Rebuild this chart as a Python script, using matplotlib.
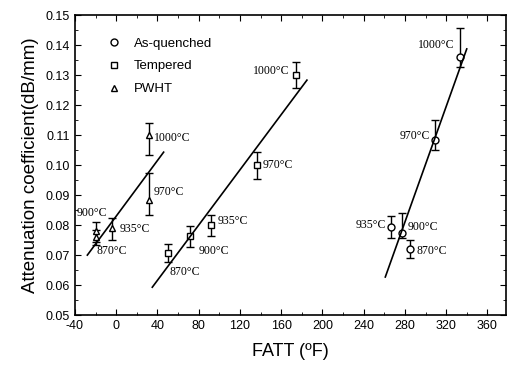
import matplotlib.pyplot as plt
import numpy as np

# data
temps = ['870', '900', '935', '970', '1000']

aq_x = [285, 277, 267, 309, 333]
aq_y = [0.072, 0.0773, 0.0794, 0.1083, 0.136]
aq_lo = [0.003, 0.0015, 0.0037, 0.0033, 0.0033]
aq_hi = [0.003, 0.0067, 0.0037, 0.0067, 0.0097]

tp_x = [50, 72, 92, 137, 174]
tp_y = [0.0707, 0.0763, 0.080, 0.100, 0.130]
tp_err = [0.003, 0.0035, 0.0035, 0.0045, 0.0043]

pw_x = [-20, -20, -4, 32, 32]
pw_y = [0.076, 0.078, 0.079, 0.0883, 0.110]
pw_lo = [0.0025, 0.0035, 0.004, 0.005, 0.0065]
pw_hi = [0.0025, 0.003, 0.0033, 0.009, 0.004]

# fitted lines (end points)
aq_fit_x = [261, 340]
aq_fit_y = [0.0627, 0.1387]
tp_fit_x = [35, 185]
tp_fit_y = [0.0593, 0.1283]
pw_fit_x = [-28, 46]
pw_fit_y = [0.070, 0.1043]

plt.rcParams['font.family'] = 'Liberation Sans'
plt.rcParams['axes.unicode_minus'] = False

fig = plt.figure(figsize=(5.1, 3.66), dpi=100)
ax = fig.add_axes([0.147, 0.139, 0.845, 0.82])

ekw = dict(fmt='none', ecolor='black', elinewidth=1.0, capsize=3, capthick=1.0)
ax.errorbar(aq_x, aq_y, yerr=[aq_lo, aq_hi], **ekw)
ax.errorbar(tp_x, tp_y, yerr=tp_err, **ekw)
ax.errorbar(pw_x, pw_y, yerr=[pw_lo, pw_hi], **ekw)

mkw = dict(linestyle='none', markerfacecolor='white', markeredgecolor='black',
           markersize=5, markeredgewidth=1.0)
ax.plot(aq_x, aq_y, marker='o', label='As-quenched', **mkw)
ax.plot(tp_x, tp_y, marker='s', label='Tempered', **mkw)
ax.plot(pw_x, pw_y, marker='^', label='PWHT', **mkw)

ax.plot(aq_fit_x, aq_fit_y, color='black', lw=1.2)
ax.plot(tp_fit_x, tp_fit_y, color='black', lw=1.2)
ax.plot(pw_fit_x, pw_fit_y, color='black', lw=1.2)

# temperature labels
lab = dict(family='Liberation Serif', fontsize=8.5)
# as-quenched
ax.text(291, 0.0715, '870°C', va='center', ha='left', **lab)
ax.text(283, 0.0795, '900°C', va='center', ha='left', **lab)
ax.text(262, 0.0800, '935°C', va='center', ha='right', **lab)
ax.text(304, 0.1097, '970°C', va='center', ha='right', **lab)
ax.text(328, 0.1400, '1000°C', va='center', ha='right', **lab)
# tempered
ax.text(52, 0.0645, '870°C', va='center', ha='left', **lab)
ax.text(80, 0.0715, '900°C', va='center', ha='left', **lab)
ax.text(98, 0.0812, '935°C', va='center', ha='left', **lab)
ax.text(142, 0.1000, '970°C', va='center', ha='left', **lab)
ax.text(168, 0.1312, '1000°C', va='center', ha='right', **lab)
# PWHT
ax.text(-19, 0.0715, '870°C', va='center', ha='left', **lab)
ax.text(-38, 0.0840, '900°C', va='center', ha='left', **lab)
ax.text(3, 0.0787, '935°C', va='center', ha='left', **lab)
ax.text(36, 0.0910, '970°C', va='center', ha='left', **lab)
ax.text(37, 0.1090, '1000°C', va='center', ha='left', **lab)

ax.set_xlim(-40, 378)
ax.set_ylim(0.05, 0.15)
ax.set_xticks(np.arange(-40, 361, 40))
ax.set_xticks(np.arange(-40, 378, 20), minor=True)
ax.set_yticks(np.arange(0.05, 0.1501, 0.01))
ax.set_yticks(np.arange(0.05, 0.1501, 0.005), minor=True)
ax.yaxis.set_major_formatter(plt.FormatStrFormatter('%.2f'))
ax.tick_params(which='both', direction='in', top=True, right=True, labelsize=9)
ax.tick_params(which='major', length=4)
ax.tick_params(which='minor', length=2)
for s in ax.spines.values():
    s.set_linewidth(1.2)

ax.set_xlabel('FATT (ºF)', fontsize=13, labelpad=8)
ax.set_ylabel('Attenuation coefficient(dB/mm)', fontsize=13.5, labelpad=5)

ax.legend(loc='upper left', bbox_to_anchor=(0.045, 0.965), frameon=False,
          fontsize=9.5, handletextpad=0.9, labelspacing=0.8, handlelength=1.2)

fig.savefig('out.png', dpi=100)
